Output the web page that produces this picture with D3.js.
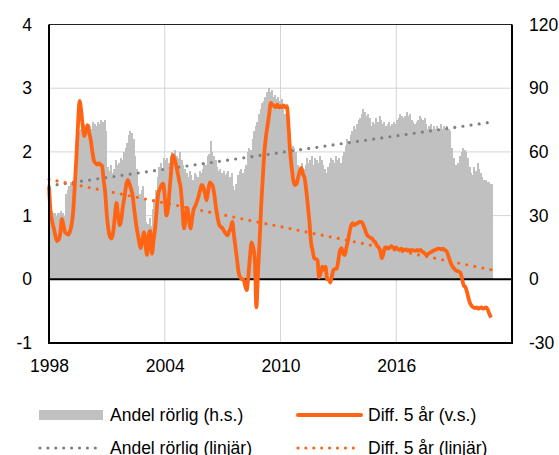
<!DOCTYPE html>
<html>
<head>
<meta charset="utf-8">
<script src="https://cdn.jsdelivr.net/npm/d3@7"></script>
<style>
  body { margin: 0; background: #fff; }
  svg { display: block; font-family: "Liberation Sans", Arial, sans-serif; }
</style>
</head>
<body>
<div id="chart"></div>
<script>
// monthly data, first value = jan 1998
const startYear = 1998;
const xTicks = [1998, 2004, 2010, 2016];
const leftTicks = [-1, 0, 1, 2, 3, 4];
const rightTicks = [-30, 0, 30, 60, 90, 120];

// Andel rörlig, procent (h.s.)
const andelRorlig = [
  33, 32, 31, 31, 30, 31, 31, 32, 31, 30, 40, 42,
  44, 46, 45, 47, 46, 60, 70, 71, 72, 73, 71, 72,
  73, 72, 71, 74, 73, 72, 74, 73, 75, 74, 75, 70,
  53, 51, 54, 50, 52, 56, 54, 55, 57, 56, 60, 62,
  64, 68, 70, 69, 66, 58, 52, 44, 40, 42, 44, 38,
  27, 26, 29, 25, 33, 38, 42, 48, 53, 55, 51, 57,
  56, 57, 55, 58, 60, 59, 61, 58, 57, 60, 56, 54,
  52, 50, 48, 51, 49, 47, 50, 49, 48, 51, 50, 52,
  55, 54, 58, 59, 65, 60, 58, 56, 53, 51, 52, 50,
  51, 49, 50, 51, 48, 50, 44, 42, 45, 49, 51, 52,
  50, 52, 54, 60, 62, 61, 66, 70, 72, 74, 78, 80,
  83, 84, 86, 88, 90, 88, 89, 86, 87, 85, 86, 84,
  85, 80, 78, 76, 68, 64, 62, 63, 62, 60, 54, 52,
  53, 55, 52, 54, 57, 55, 56, 58, 54, 57, 56, 55,
  58, 56, 54, 52, 50, 53, 55, 57, 56, 55, 58, 56,
  57, 55, 58, 60, 63, 66, 65, 68, 70, 72, 71, 73,
  75, 76, 78, 80, 79, 77, 78, 76, 72, 74, 73, 76,
  74, 77, 75, 73, 74, 72, 73, 74, 72, 73, 74, 73,
  75, 76, 78, 77, 76, 77, 79, 77, 78, 75, 74, 73,
  74, 75, 77, 76, 75, 76, 73, 71, 72, 73, 71, 72,
  71, 72, 71, 73, 71, 72, 71, 72, 71, 70, 62, 57,
  54, 54, 55, 58, 60, 62, 61, 60, 57, 53, 50, 49,
  53, 51, 55, 52, 50, 48, 47, 47, 46, 46, 45, 45
];

// Diff. 5 år, procentenheter (v.s.)
const diff5 = [
  1.45, 1.05, 0.9, 0.8, 0.68, 0.6, 0.62, 0.72, 0.95, 0.85, 0.74, 0.72,
  0.7, 0.75, 0.85, 1.05, 1.45, 1.9, 2.4, 2.8, 2.65, 2.4, 2.25, 2.35,
  2.42, 2.3, 2.18, 2.0, 1.86, 1.82, 1.8, 1.82, 1.8, 1.78, 1.55, 1.35,
  1.0, 0.78, 0.66, 0.64, 0.75, 1.0, 1.2, 1.0, 0.85, 0.95, 1.15, 1.3,
  1.48, 1.56, 1.5, 1.42, 1.32, 1.1, 0.9, 0.74, 0.6, 0.49, 0.6, 0.74,
  0.55, 0.38, 0.7, 0.76, 0.4, 0.6, 0.8, 1.1, 1.35, 1.42, 1.48, 1.5,
  1.3, 1.0, 1.1, 1.4, 1.7, 1.95, 1.9, 1.8, 1.68, 1.55, 1.42, 1.1,
  0.8, 0.95, 1.12, 0.95, 0.8, 0.95, 1.1, 1.15, 1.22, 1.3, 1.4, 1.48,
  1.45, 1.35, 1.24, 1.38, 1.52, 1.5, 1.45, 1.3, 1.1, 0.95, 0.85, 0.82,
  0.8, 0.75, 0.72, 0.69, 0.75, 0.8, 0.9, 0.7, 0.5, 0.3, 0.1, 0.03,
  0.0, 0.0, -0.1, -0.17, 0.05, 0.35, 0.58, 0.5, 0.33, -0.44, 0.1, 0.6,
  1.16, 1.6, 2.0, 2.25, 2.42, 2.6, 2.77, 2.74, 2.72, 2.7, 2.74, 2.7,
  2.72, 2.7, 2.73, 2.7, 2.72, 2.4, 2.0, 1.75, 1.55, 1.48, 1.5, 1.6,
  1.7, 1.75, 1.65, 1.59, 1.4, 1.16, 0.9, 0.58, 0.45, 0.33, 0.32, 0.3,
  0.03, 0.1, 0.2, 0.15, 0.2, 0.0, 0.0, -0.05, 0.05, 0.15, 0.16, 0.17,
  0.3, 0.45, 0.49, 0.4, 0.38, 0.5, 0.61, 0.75, 0.85, 0.88, 0.85, 0.87,
  0.88, 0.9, 0.9, 0.88, 0.82, 0.75, 0.69, 0.67, 0.65, 0.64, 0.6, 0.58,
  0.53, 0.5, 0.45, 0.33, 0.4, 0.5, 0.5, 0.48, 0.5, 0.52, 0.5, 0.48,
  0.5, 0.47, 0.46, 0.48, 0.47, 0.46, 0.47, 0.45, 0.46, 0.44, 0.46, 0.45,
  0.45, 0.46, 0.45, 0.46, 0.44, 0.42, 0.4, 0.38, 0.4, 0.42, 0.43, 0.45,
  0.46, 0.47, 0.48, 0.48, 0.47, 0.48, 0.46, 0.45, 0.4, 0.32, 0.25, 0.2,
  0.17, 0.14, 0.13, 0.12, 0.1, 0.0, -0.1, -0.12, -0.2, -0.3, -0.38, -0.42,
  -0.44, -0.45, -0.44, -0.46, -0.45, -0.44, -0.46, -0.45, -0.44, -0.48, -0.55, -0.6
];

// linear trends, value at first and last month
const andelTrend = [44, 74];
const diffTrend = [1.57, 0.15];

const legendItems = [
  { label: 'Andel rörlig (h.s.)', type: 'bar' },
  { label: 'Diff. 5 år (v.s.)', type: 'line' },
  { label: 'Andel rörlig (linjär)', type: 'dotGray' },
  { label: 'Diff. 5 år (linjär)', type: 'dotOrange' }
];

const width = 559, height = 455;
const plot = { left: 49, right: 512, top: 24.5, bottom: 343 };
const grayFill = '#c0c0c0';
const orange = '#ff6414';
const dotGray = '#808080';
const gridColor = '#d4d4d4';
const fontSize = 17.5;

const timeOf = i => startYear + i / 12;
const tFirst = timeOf(0);
const tLast = timeOf(andelRorlig.length - 1);

const x = d3.scaleLinear().domain([1998, 2022]).range([plot.left, plot.right]);
const yL = d3.scaleLinear().domain([-1, 4]).range([plot.bottom, plot.top]);
const yR = d3.scaleLinear().domain([-30, 120]).range([plot.bottom, plot.top]);

const svg = d3.select('#chart')
  .append('svg')
  .attr('width', width)
  .attr('height', height);

// grid
svg.append('g')
  .selectAll('line')
  .data(leftTicks.filter(d => d > 0 && d < 4))
  .join('line')
  .attr('x1', plot.left).attr('x2', plot.right)
  .attr('y1', d => yL(d)).attr('y2', d => yL(d))
  .attr('stroke', gridColor).attr('stroke-width', 1);

svg.append('g')
  .selectAll('line')
  .data(xTicks.slice(1))
  .join('line')
  .attr('x1', d => x(d)).attr('x2', d => x(d))
  .attr('y1', plot.top).attr('y2', plot.bottom)
  .attr('stroke', gridColor).attr('stroke-width', 1);

// bars (h.s.)
const barW = x(1998 + 1 / 12) - x(1998);
svg.append('g')
  .selectAll('rect')
  .data(andelRorlig)
  .join('rect')
  .attr('x', (d, i) => x(timeOf(i)))
  .attr('width', barW + 0.4)
  .attr('y', d => yR(d))
  .attr('height', d => yR(0) - yR(d))
  .attr('fill', grayFill)
  .attr('shape-rendering', 'crispEdges');

// zero line
svg.append('line')
  .attr('x1', plot.left).attr('x2', plot.right)
  .attr('y1', yL(0)).attr('y2', yL(0))
  .attr('stroke', '#000').attr('stroke-width', 2);

// trend lines
svg.append('line')
  .attr('x1', x(tFirst)).attr('x2', x(tLast))
  .attr('y1', yR(andelTrend[0])).attr('y2', yR(andelTrend[1]))
  .attr('stroke', dotGray).attr('stroke-width', 3.2)
  .attr('stroke-linecap', 'round').attr('stroke-dasharray', '0,8.2');

svg.append('line')
  .attr('x1', x(tFirst)).attr('x2', x(tLast))
  .attr('y1', yL(diffTrend[0])).attr('y2', yL(diffTrend[1]))
  .attr('stroke', orange).attr('stroke-width', 3.2)
  .attr('stroke-linecap', 'round').attr('stroke-dasharray', '0,8.2');

// Diff line (v.s.)
const line = d3.line()
  .x((d, i) => x(timeOf(i)))
  .y(d => yL(d))
  .curve(d3.curveMonotoneX);

svg.append('path')
  .datum(diff5)
  .attr('d', line)
  .attr('fill', 'none')
  .attr('stroke', orange)
  .attr('stroke-width', 3.8)
  .attr('stroke-linejoin', 'round');

// frame
svg.append('line')
  .attr('x1', plot.left).attr('x2', plot.right)
  .attr('y1', plot.top).attr('y2', plot.top)
  .attr('stroke', '#222').attr('stroke-width', 1.2);
svg.append('line')
  .attr('x1', plot.left - 1).attr('x2', plot.right + 1)
  .attr('y1', plot.bottom).attr('y2', plot.bottom)
  .attr('stroke', '#000').attr('stroke-width', 2);
[plot.left, plot.right].forEach(px => {
  svg.append('line')
    .attr('x1', px).attr('x2', px)
    .attr('y1', plot.top).attr('y2', plot.bottom + 1)
    .attr('stroke', '#000').attr('stroke-width', 2);
});

// axes
const fmt = d => String(d); // plain hyphen minus like the original
const axisFont = g => {
  g.select('.domain').remove();
  g.selectAll('text').attr('font-size', fontSize).attr('fill', '#000')
    .attr('font-family', '"Liberation Sans", Arial, sans-serif');
};

svg.append('g')
  .attr('transform', `translate(${plot.left - 14},0)`)
  .call(d3.axisLeft(yL).tickValues(leftTicks).tickSize(0).tickFormat(fmt))
  .call(axisFont);

svg.append('g')
  .attr('transform', `translate(${plot.right + 17},0)`)
  .call(d3.axisRight(yR).tickValues(rightTicks).tickSize(0).tickFormat(fmt))
  .call(axisFont)
  .selectAll('text').attr('x', 0);

svg.append('g')
  .attr('transform', `translate(0,371.5)`)
  .call(d3.axisBottom(x).tickValues(xTicks).tickSize(0).tickFormat(fmt))
  .call(axisFont)
  .selectAll('text').attr('y', 0).attr('dy', null);

// legend
const legendPos = [
  { sx: 39, tx: 110, y: 415 },
  { sx: 297, tx: 368, y: 415 },
  { sx: 39, tx: 110, y: 448 },
  { sx: 297, tx: 368, y: 448 }
];
const symW = 64;

const legend = svg.append('g');
legendItems.forEach((item, i) => {
  const p = legendPos[i];
  if (item.type === 'bar') {
    legend.append('rect')
      .attr('x', p.sx).attr('y', p.y - 5).attr('width', symW).attr('height', 10)
      .attr('fill', grayFill);
  } else if (item.type === 'line') {
    legend.append('line')
      .attr('x1', p.sx + 1).attr('x2', p.sx + symW).attr('y1', p.y).attr('y2', p.y)
      .attr('stroke', orange).attr('stroke-width', 4).attr('stroke-linecap', 'round');
  } else {
    legend.append('line')
      .attr('x1', p.sx + 1).attr('x2', p.sx + symW).attr('y1', p.y).attr('y2', p.y)
      .attr('stroke', item.type === 'dotGray' ? dotGray : orange)
      .attr('stroke-width', 3.2).attr('stroke-linecap', 'round')
      .attr('stroke-dasharray', '0,7.9');
  }
  legend.append('text')
    .attr('x', p.tx).attr('y', p.y)
    .attr('dy', '0.36em')
    .attr('font-size', fontSize)
    .text(item.label);
});
</script>
</body>
</html>
